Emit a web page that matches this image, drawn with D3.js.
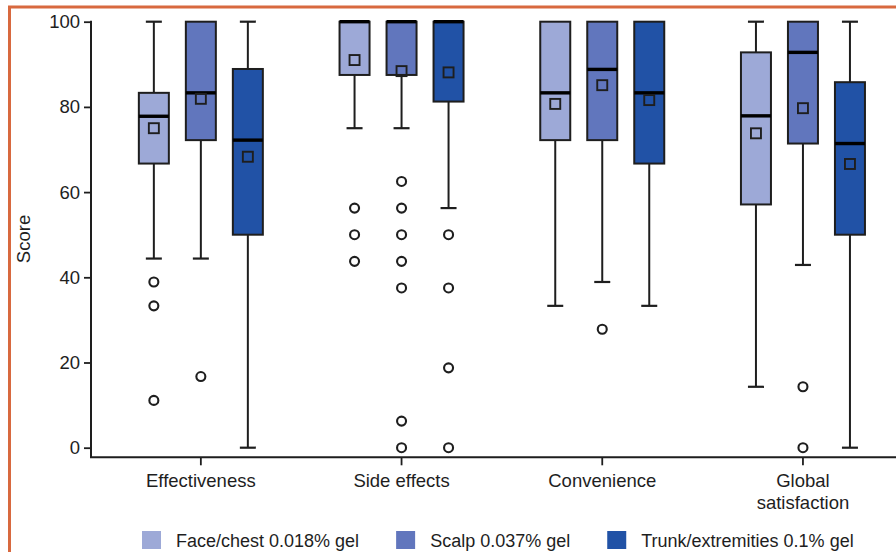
<!DOCTYPE html>
<html>
<head>
<meta charset="utf-8">
<script src="https://cdn.jsdelivr.net/npm/d3@7"></script>
<style>
  html, body { margin: 0; padding: 0; background: #fff; }
  svg { display: block; font-family: "Liberation Sans", Arial, Helvetica, sans-serif; }
</style>
</head>
<body>
<div id="area"></div>
<script>
var width = 896,
    height = 552;

// categories on the x axis (second line for wrapped labels)
var categories = ['Effectiveness', 'Side effects', 'Convenience', 'Global satisfaction'];
var categoryLines = [['Effectiveness'], ['Side effects'], ['Convenience'], ['Global', 'satisfaction']];

var groups = ['Face/chest 0.018% gel', 'Scalp 0.037% gel', 'Trunk/extremities 0.1% gel'];
var groupColors = ['#9da9d7', '#6176bd', '#2152a6'];

var yTicks = [0, 20, 40, 60, 80, 100];

// one array per statistic, one row per group, one value per category
var whiskerHigh = [
  [100, 100, 100, 100],
  [100, 100, 100, 100],
  [100, 100, 100, 100]
];
var q3 = [
  [83.3, 100, 100, 92.8],
  [100, 100, 100, 100],
  [88.9, 100, 100, 85.8]
];
var medians = [
  [77.8, 100, 83.3, 77.9],
  [83.3, 100, 88.8, 92.8],
  [72.2, 100, 83.3, 71.4]
];
var q1 = [
  [66.7, 87.5, 72.2, 57.1],
  [72.2, 87.5, 72.2, 71.4],
  [50, 81.25, 66.7, 50]
];
var whiskerLow = [
  [44.4, 75, 33.3, 14.3],
  [44.4, 75, 38.9, 42.9],
  [0, 56.25, 33.3, 0]
];
var means = [
  [75.0, 91.0, 80.7, 73.8],
  [81.9, 88.4, 85.1, 79.7],
  [68.3, 88.1, 81.6, 66.6]
];
var outliers = [
  [[38.9, 33.3, 11.1], [56.25, 50, 43.75], [], []],
  [[16.7], [62.5, 56.25, 50, 43.75, 37.5, 6.25, 0], [27.8], [14.3, 0]],
  [[], [50, 37.5, 18.75, 0], [], []]
];

var axisX = 91,
    axisY = 457.3,
    boxWidth = 30,
    capWidth = 16,
    ink = '#1e1e1e';

var svg = d3.select('#area').append('svg')
    .attr('width', width)
    .attr('height', height);

svg.append('rect').attr('width', width).attr('height', height).attr('fill', '#fff');

// orange frame (left and top only, rest is cut off)
svg.append('path')
    .attr('d', 'M9.5,' + height + ' V7 H' + width)
    .attr('fill', 'none')
    .attr('stroke', '#d8693f')
    .attr('stroke-width', 3);

var x = d3.scaleBand().domain(categories).range([100.5, 903.3]).padding(0);
var xg = d3.scalePoint().domain(groups).range([-47, 47]);
var y = d3.scaleLinear().domain([0, 100]).range([447.7, 21.7]);

// y axis
var yAxis = svg.append('g')
    .attr('transform', 'translate(' + axisX + ',0)')
    .call(d3.axisLeft(y).tickValues(yTicks).tickSize(7).tickPadding(4).tickSizeOuter(0));
yAxis.select('.domain').remove();
yAxis.append('line')
    .attr('x1', 0).attr('x2', 0)
    .attr('y1', y(100) - 1).attr('y2', axisY)
    .attr('stroke', ink).attr('stroke-width', 2);
yAxis.selectAll('.tick line').attr('stroke', ink).attr('stroke-width', 1.8);
yAxis.selectAll('.tick text')
    .attr('font-size', 18.5).attr('fill', ink)
    .attr('font-family', '"Liberation Sans", Arial, sans-serif');

// x axis
var xAxis = svg.append('g')
    .attr('transform', 'translate(0,' + axisY + ')')
    .call(d3.axisBottom(x).tickSize(8).tickSizeOuter(0).tickFormat(''));
xAxis.select('.domain').remove();
xAxis.append('line')
    .attr('x1', axisX - 1).attr('x2', width)
    .attr('y1', 0).attr('y2', 0)
    .attr('stroke', ink).attr('stroke-width', 2);
xAxis.selectAll('.tick line').attr('stroke', ink).attr('stroke-width', 1.8);

categories.forEach(function(c, i) {
  var t = svg.append('text')
      .attr('x', x(c) + x.bandwidth() / 2)
      .attr('y', 487)
      .attr('text-anchor', 'middle')
      .attr('font-size', 18.5)
      .attr('fill', ink);
  categoryLines[i].forEach(function(line, j) {
    t.append('tspan')
        .attr('x', x(c) + x.bandwidth() / 2)
        .attr('dy', j == 0 ? 0 : 22)
        .text(line);
  });
});

// y title
svg.append('text')
    .attr('transform', 'translate(30,239) rotate(-90)')
    .attr('text-anchor', 'middle')
    .attr('font-size', 18.5)
    .attr('fill', ink)
    .text('Score');

// boxes
groups.forEach(function(g, gi) {
  categories.forEach(function(c, ci) {
    var cx = x(c) + x.bandwidth() / 2 + xg(g);
    var layer = svg.append('g');

    // whiskers
    if (whiskerHigh[gi][ci] > q3[gi][ci]) {
      layer.append('line')
          .attr('x1', cx).attr('x2', cx)
          .attr('y1', y(whiskerHigh[gi][ci])).attr('y2', y(q3[gi][ci]))
          .attr('stroke', ink).attr('stroke-width', 2);
      layer.append('line')
          .attr('x1', cx - capWidth / 2).attr('x2', cx + capWidth / 2)
          .attr('y1', y(whiskerHigh[gi][ci])).attr('y2', y(whiskerHigh[gi][ci]))
          .attr('stroke', ink).attr('stroke-width', 2.2);
    }
    if (whiskerLow[gi][ci] < q1[gi][ci]) {
      layer.append('line')
          .attr('x1', cx).attr('x2', cx)
          .attr('y1', y(q1[gi][ci])).attr('y2', y(whiskerLow[gi][ci]))
          .attr('stroke', ink).attr('stroke-width', 2);
      layer.append('line')
          .attr('x1', cx - capWidth / 2).attr('x2', cx + capWidth / 2)
          .attr('y1', y(whiskerLow[gi][ci])).attr('y2', y(whiskerLow[gi][ci]))
          .attr('stroke', ink).attr('stroke-width', 2.2);
    }

    // box
    layer.append('rect')
        .attr('x', cx - boxWidth / 2)
        .attr('y', y(q3[gi][ci]))
        .attr('width', boxWidth)
        .attr('height', y(q1[gi][ci]) - y(q3[gi][ci]))
        .attr('fill', groupColors[gi])
        .attr('stroke', ink)
        .attr('stroke-width', 2);

    // median
    layer.append('line')
        .attr('x1', cx - boxWidth / 2).attr('x2', cx + boxWidth / 2)
        .attr('y1', y(medians[gi][ci])).attr('y2', y(medians[gi][ci]))
        .attr('stroke', '#000').attr('stroke-width', 3.4);

    // mean
    layer.append('rect')
        .attr('x', cx - 5).attr('y', y(means[gi][ci]) - 5)
        .attr('width', 10).attr('height', 10)
        .attr('fill', 'none')
        .attr('stroke', ink).attr('stroke-width', 1.9);

    // outliers
    layer.selectAll('circle')
        .data(outliers[gi][ci])
        .enter().append('circle')
        .attr('cx', cx)
        .attr('cy', function(d) { return y(d); })
        .attr('r', 4.5)
        .attr('fill', '#fff')
        .attr('stroke', ink)
        .attr('stroke-width', 2.1);
  });
});

// legend
var legend = svg.append('g').attr('transform', 'translate(142,531)');
var lx = 0;
groups.forEach(function(g, i) {
  legend.append('rect')
      .attr('x', lx).attr('y', 0)
      .attr('width', 19).attr('height', 18)
      .attr('fill', groupColors[i]);
  var t = legend.append('text')
      .attr('x', lx + 34)
      .attr('y', 15.5)
      .attr('font-size', 18)
      .attr('fill', ink)
      .text(g);
  lx += 34 + t.node().getComputedTextLength() + 37;
});
</script>
</body>
</html>
